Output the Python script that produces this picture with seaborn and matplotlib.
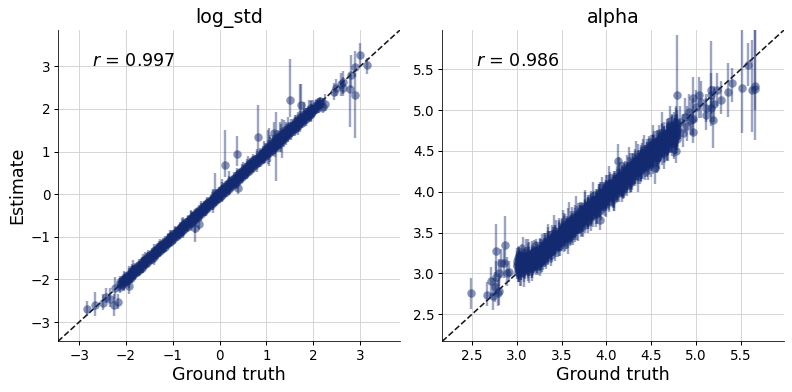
import numpy as np
import pandas as pd
import matplotlib
matplotlib.use("Agg")
import matplotlib.pyplot as plt
import seaborn as sns

NAVY = "#132a70"

# log_std: main band, three estimate layers read at the same truth positions
log_std_truth = [
    -2.12, -2.08, -2.05, -2.01, -1.97, -1.94, -1.90, -1.87, -1.84, -1.80,
    -1.77, -1.73, -1.70, -1.66, -1.63, -1.59, -1.55, -1.52, -1.48, -1.45,
    -1.41, -1.38, -1.34, -1.31, -1.27, -1.24, -1.20, -1.17, -1.13, -1.10,
    -1.06, -1.03, -0.99, -0.96, -0.92, -0.89, -0.85, -0.82, -0.78, -0.75,
    -0.71, -0.68, -0.64, -0.61, -0.57, -0.54, -0.50, -0.47, -0.43, -0.40,
    -0.36, -0.33, -0.29, -0.26, -0.22, -0.19, -0.15, -0.12, -0.08, -0.05,
    -0.01, 0.02, 0.06, 0.09, 0.13, 0.16, 0.20, 0.23, 0.27, 0.30,
    0.34, 0.37, 0.41, 0.44, 0.48, 0.51, 0.55, 0.58, 0.62, 0.65,
    0.69, 0.72, 0.76, 0.79, 0.83, 0.86, 0.90, 0.93, 0.97, 1.00,
    1.04, 1.07, 1.11, 1.14, 1.18, 1.21, 1.25, 1.28, 1.32, 1.35,
    1.39, 1.42, 1.46, 1.49, 1.53, 1.56, 1.60, 1.64, 1.68, 1.72,
    1.76, 1.80, 1.84, 1.88, 1.92, 1.96, 2.00, 2.05, 2.10, 2.15,
]
log_std_est = [
    -2.06, -2.12, -1.98, -2.03, -1.92, -1.99, -1.84, -1.93, -1.76, -1.86,
    -1.70, -1.78, -1.65, -1.72, -1.56, -1.64, -1.50, -1.57, -1.42, -1.52,
    -1.36, -1.43, -1.29, -1.36, -1.21, -1.29, -1.14, -1.23, -1.09, -1.15,
    -1.00, -1.09, -0.93, -1.01, -0.87, -0.94, -0.79, -0.88, -0.72, -0.81,
    -0.65, -0.74, -0.59, -0.67, -0.52, -0.60, -0.45, -0.54, -0.38, -0.46,
    -0.30, -0.39, -0.24, -0.32, -0.17, -0.25, -0.10, -0.18, -0.03, -0.11,
    0.05, -0.04, 0.12, 0.03, 0.19, 0.10, 0.27, 0.17, 0.33, 0.25,
    0.41, 0.30, 0.47, 0.38, 0.55, 0.45, 0.61, 0.53, 0.68, 0.60,
    0.75, 0.67, 0.82, 0.73, 0.88, 0.80, 0.96, 0.87, 1.03, 0.94,
    1.12, 1.00, 1.19, 1.07, 1.26, 1.14, 1.33, 1.20, 1.40, 1.29,
    1.46, 1.36, 1.52, 1.43, 1.59, 1.50, 1.64, 1.58, 1.71, 1.66,
    1.78, 1.74, 1.85, 1.83, 1.90, 1.91, 1.97, 2.00, 2.08, 2.12,
]
log_std_est2 = [
    -2.17, -2.02, -2.09, -1.94, -2.03, -1.88, -1.96, -1.80, -1.89, -1.74,
    -1.82, -1.67, -1.75, -1.60, -1.68, -1.53, -1.61, -1.46, -1.53, -1.39,
    -1.47, -1.32, -1.39, -1.25, -1.33, -1.18, -1.26, -1.11, -1.18, -1.04,
    -1.12, -0.97, -1.05, -0.90, -0.98, -0.83, -0.91, -0.76, -0.84, -0.69,
    -0.77, -0.62, -0.70, -0.55, -0.63, -0.48, -0.56, -0.41, -0.49, -0.34,
    -0.42, -0.27, -0.35, -0.20, -0.28, -0.13, -0.21, -0.06, -0.14, 0.01,
    -0.08, 0.09, -0.01, 0.16, 0.06, 0.23, 0.13, 0.30, 0.20, 0.37,
    0.27, 0.44, 0.34, 0.51, 0.41, 0.58, 0.48, 0.65, 0.55, 0.72,
    0.62, 0.79, 0.69, 0.86, 0.76, 0.93, 0.83, 1.00, 0.90, 1.07,
    0.96, 1.14, 1.03, 1.21, 1.10, 1.28, 1.17, 1.36, 1.24, 1.43,
    1.31, 1.50, 1.38, 1.57, 1.45, 1.63, 1.52, 1.71, 1.61, 1.79,
    1.68, 1.87, 1.77, 1.94, 1.86, 2.02, 1.94, 2.10, 2.03, 2.18,
]
log_std_est3 = [
    -2.10, -2.06, -2.07, -1.99, -1.98, -1.92, -1.91, -1.85, -1.85, -1.78,
    -1.79, -1.71, -1.71, -1.64, -1.64, -1.57, -1.56, -1.50, -1.49, -1.43,
    -1.42, -1.36, -1.35, -1.29, -1.28, -1.22, -1.21, -1.15, -1.14, -1.08,
    -1.07, -1.01, -1.00, -0.94, -0.93, -0.87, -0.86, -0.80, -0.79, -0.73,
    -0.72, -0.66, -0.65, -0.59, -0.58, -0.52, -0.51, -0.45, -0.44, -0.38,
    -0.37, -0.31, -0.30, -0.24, -0.23, -0.17, -0.16, -0.10, -0.09, -0.03,
    -0.02, 0.04, 0.05, 0.11, 0.12, 0.18, 0.19, 0.25, 0.26, 0.32,
    0.33, 0.39, 0.40, 0.46, 0.47, 0.53, 0.54, 0.60, 0.61, 0.67,
    0.68, 0.74, 0.75, 0.81, 0.82, 0.88, 0.89, 0.95, 0.96, 1.02,
    1.03, 1.09, 1.10, 1.16, 1.17, 1.23, 1.24, 1.30, 1.31, 1.37,
    1.38, 1.44, 1.45, 1.51, 1.52, 1.58, 1.59, 1.66, 1.67, 1.74,
    1.75, 1.82, 1.83, 1.90, 1.91, 1.98, 1.99, 2.07, 2.09, 2.16,
]
log_std_half = [
    0.14, 0.10, 0.17, 0.12, 0.10, 0.20, 0.12, 0.16, 0.11, 0.13,
    0.10, 0.15, 0.09, 0.12, 0.16, 0.09, 0.11, 0.14, 0.09, 0.12,
    0.18, 0.09, 0.12, 0.10, 0.15, 0.09, 0.11, 0.13, 0.08, 0.14,
    0.09, 0.12, 0.08, 0.16, 0.10, 0.09, 0.13, 0.08, 0.18, 0.10,
    0.09, 0.14, 0.08, 0.19, 0.10, 0.09, 0.13, 0.08, 0.12, 0.17,
    0.09, 0.11, 0.08, 0.13, 0.09, 0.10, 0.22, 0.09, 0.12, 0.10,
    0.13, 0.09, 0.17, 0.10, 0.12, 0.09, 0.16, 0.11, 0.09, 0.14,
    0.10, 0.18, 0.11, 0.09, 0.15, 0.10, 0.12, 0.17, 0.11, 0.13,
    0.10, 0.15, 0.11, 0.20, 0.12, 0.16, 0.10, 0.14, 0.18, 0.11,
    0.15, 0.24, 0.12, 0.17, 0.22, 0.14, 0.18, 0.12, 0.25, 0.15,
    0.13, 0.20, 0.15, 0.12, 0.18, 0.13, 0.16, 0.14, 0.22, 0.16,
    0.12, 0.15, 0.18, 0.12, 0.14, 0.20, 0.11, 0.13, 0.12, 0.10,
]

# log_std: isolated points and long bars with their own interval ends
log_std_out_truth = [
    3.00, 3.15, 2.89, 2.80, 2.78, 2.89, 2.64, 2.60, 2.64, 2.44, 2.48,
    1.51, 1.73, 0.82, 0.37, 0.12, 0.40, 1.16, 1.20, 1.33, 1.71, 1.80, -0.10,
    -1.93, -2.17, -2.25, -2.35, -2.83, -2.65, -2.49, -2.42, -2.24, -0.53, -0.44,
    2.25, 2.20, 2.10, 1.95,
    -1.85, -1.60, -1.30, -1.05, -0.80, -0.60, -0.30, 0.05, 0.20, 0.50, 0.60,
    0.95, 1.05, 1.28, 1.38, 1.47, 1.60, 1.90, 2.00, -0.52, 1.03,
]
log_std_out_est = [
    3.26, 3.02, 2.98, 2.80, 2.47, 2.33, 2.62, 2.58, 2.50, 2.39, 2.50,
    2.20, 2.08, 1.33, 0.95, 0.69, 0.15, 1.44, 1.15, 1.30, 1.70, 1.85, 0.02,
    -2.15, -2.54, -2.60, -2.45, -2.70, -2.60, -2.55, -2.40, -2.20, -0.80, -0.69,
    2.12, 2.05, 2.08, 1.88,
    -1.80, -1.55, -1.28, -1.02, -0.75, -0.60, -0.30, 0.07, 0.22, 0.52, 0.62,
    0.98, 1.10, 1.28, 1.35, 1.50, 1.62, 1.92, 2.00, -0.55, 1.05,
]
log_std_out_low = [
    3.00, 2.82, 2.75, 2.50, 1.58, 1.32, 2.35, 2.30, 2.30, 2.20, 2.30,
    1.80, 1.75, 1.00, 0.65, 0.40, 0.00, 1.20, 0.31, 0.85, 1.45, 1.70, -0.25,
    -2.35, -2.70, -2.85, -2.65, -2.85, -2.85, -2.72, -2.55, -2.45, -1.12, -0.85,
    1.95, 1.90, 1.95, 1.70,
    -2.00, -1.75, -1.45, -1.20, -0.95, -0.78, -0.50, -0.15, 0.00, 0.30, 0.40,
    0.70, 0.65, 1.00, 1.10, 1.30, 1.45, 1.70, 1.85, -0.90, 0.70,
]
log_std_out_high = [
    3.55, 3.20, 3.35, 3.27, 2.85, 2.85, 2.90, 2.85, 2.75, 2.60, 2.70,
    3.16, 2.58, 2.09, 1.37, 1.50, 0.35, 1.70, 1.92, 1.76, 2.58, 2.15, 0.50,
    -1.95, -2.35, -2.35, -2.20, -2.50, -2.30, -2.35, -2.20, -1.95, -0.55, -0.50,
    2.35, 2.25, 2.25, 2.10,
    -1.55, -1.35, -1.10, -0.85, -0.55, -0.42, -0.15, 0.35, 0.55, 0.75, 0.90,
    1.25, 1.55, 1.70, 1.75, 1.80, 1.85, 2.20, 2.20, -0.35, 1.50,
]

# alpha: main band
alpha_truth = [
    3.00, 3.01, 3.03, 3.03, 3.05, 3.05, 3.06, 3.08, 3.08, 3.09,
    3.10, 3.12, 3.12, 3.14, 3.14, 3.15, 3.17, 3.17, 3.18, 3.19,
    3.20, 3.21, 3.23, 3.23, 3.24, 3.26, 3.26, 3.27, 3.28, 3.29,
    3.30, 3.32, 3.32, 3.33, 3.35, 3.35, 3.36, 3.38, 3.38, 3.39,
    3.40, 3.41, 3.43, 3.43, 3.44, 3.45, 3.47, 3.47, 3.48, 3.49,
    3.50, 3.51, 3.53, 3.53, 3.54, 3.56, 3.56, 3.57, 3.59, 3.59,
    3.60, 3.62, 3.62, 3.63, 3.65, 3.65, 3.67, 3.67, 3.68, 3.70,
    3.70, 3.71, 3.73, 3.73, 3.74, 3.76, 3.76, 3.77, 3.79, 3.79,
    3.80, 3.81, 3.83, 3.83, 3.85, 3.85, 3.86, 3.88, 3.88, 3.89,
    3.90, 3.92, 3.92, 3.93, 3.94, 3.96, 3.96, 3.97, 3.99, 3.99,
    4.00, 4.01, 4.03, 4.03, 4.04, 4.06, 4.06, 4.08, 4.08, 4.09,
    4.10, 4.12, 4.12, 4.14, 4.14, 4.15, 4.17, 4.17, 4.18, 4.20,
    4.20, 4.21, 4.23, 4.23, 4.24, 4.26, 4.26, 4.27, 4.29, 4.29,
    4.30, 4.32, 4.32, 4.33, 4.35, 4.35, 4.36, 4.38, 4.38, 4.39,
    4.40, 4.41, 4.43, 4.43, 4.45, 4.45, 4.47, 4.47, 4.48, 4.50,
    4.50, 4.52, 4.52, 4.53, 4.55, 4.55, 4.56, 4.58, 4.58, 4.59,
    4.60, 4.62, 4.62, 4.64, 4.64, 4.65, 4.67, 4.67, 4.69, 4.69,
    4.70, 4.72, 4.73, 4.73, 4.75, 4.76, 4.76, 4.78, 4.79, 4.79,
]
alpha_est = [
    3.15, 3.02, 3.22, 3.08, 3.16, 3.00, 3.24, 3.10, 3.05, 3.18,
    3.12, 3.20, 3.06, 3.16, 3.24, 3.10, 3.19, 3.07, 3.26, 3.14,
    3.21, 3.13, 3.28, 3.17, 3.09, 3.26, 3.20, 3.31, 3.16, 3.24,
    3.37, 3.24, 3.31, 3.19, 3.40, 3.29, 3.36, 3.23, 3.33, 3.43,
    3.35, 3.46, 3.30, 3.41, 3.51, 3.37, 3.45, 3.33, 3.49, 3.42,
    3.53, 3.44, 3.58, 3.47, 3.40, 3.55, 3.50, 3.61, 3.46, 3.57,
    3.64, 3.52, 3.59, 3.49, 3.68, 3.56, 3.63, 3.54, 3.71, 3.60,
    3.67, 3.76, 3.62, 3.71, 3.58, 3.79, 3.68, 3.74, 3.63, 3.81,
    3.72, 3.85, 3.76, 3.69, 3.88, 3.79, 3.84, 3.73, 3.91, 3.81,
    3.92, 3.84, 3.98, 3.87, 3.79, 3.95, 3.90, 4.01, 3.85, 3.97,
    4.06, 3.93, 3.99, 3.89, 4.09, 3.96, 4.03, 3.94, 4.12, 4.00,
    4.07, 4.17, 4.02, 4.11, 3.99, 4.20, 4.08, 4.14, 4.03, 4.22,
    4.12, 4.26, 4.16, 4.08, 4.29, 4.19, 4.24, 4.13, 4.32, 4.21,
    4.32, 4.23, 4.38, 4.27, 4.19, 4.36, 4.30, 4.41, 4.25, 4.37,
    4.46, 4.33, 4.39, 4.29, 4.49, 4.36, 4.43, 4.34, 4.52, 4.40,
    4.47, 4.58, 4.42, 4.51, 4.39, 4.61, 4.48, 4.54, 4.43, 4.63,
    4.52, 4.67, 4.56, 4.48, 4.70, 4.59, 4.64, 4.53, 4.73, 4.61,
    4.72, 4.63, 4.78, 4.67, 4.59, 4.76, 4.70, 4.81, 4.65, 4.77,
]
alpha_est2 = [
    3.09, 3.19, 3.04, 3.13, 3.21, 3.07, 3.14, 3.03, 3.20, 3.11,
    3.17, 3.08, 3.23, 3.11, 3.03, 3.18, 3.22, 3.13, 3.09, 3.27,
    3.16, 3.25, 3.10, 3.22, 3.28, 3.14, 3.30, 3.19, 3.25, 3.14,
    3.28, 3.34, 3.21, 3.37, 3.26, 3.33, 3.42, 3.27, 3.40, 3.30,
    3.44, 3.32, 3.38, 3.47, 3.34, 3.42, 3.50, 3.39, 3.35, 3.47,
    3.47, 3.56, 3.42, 3.52, 3.60, 3.45, 3.57, 3.43, 3.54, 3.49,
    3.57, 3.66, 3.50, 3.62, 3.53, 3.67, 3.59, 3.70, 3.55, 3.65,
    3.72, 3.60, 3.68, 3.77, 3.64, 3.73, 3.82, 3.70, 3.78, 3.66,
    3.79, 3.70, 3.88, 3.77, 3.83, 3.71, 3.90, 3.76, 3.86, 3.74,
    3.86, 3.95, 3.81, 3.92, 3.99, 3.84, 3.96, 3.87, 3.93, 4.03,
    3.97, 4.08, 3.92, 4.02, 4.11, 3.98, 4.06, 3.91, 4.09, 3.95,
    4.13, 4.02, 4.08, 4.19, 4.05, 4.12, 4.00, 4.18, 4.10, 4.06,
    4.20, 4.10, 4.28, 4.15, 4.23, 4.11, 4.30, 4.17, 4.26, 4.14,
    4.27, 4.37, 4.21, 4.33, 4.40, 4.24, 4.35, 4.28, 4.43, 4.31,
    4.38, 4.48, 4.31, 4.42, 4.52, 4.37, 4.47, 4.35, 4.50, 4.33,
    4.54, 4.44, 4.50, 4.60, 4.46, 4.53, 4.41, 4.59, 4.50, 4.47,
    4.60, 4.50, 4.69, 4.55, 4.63, 4.51, 4.71, 4.58, 4.66, 4.54,
    4.66, 4.76, 4.61, 4.73, 4.82, 4.64, 4.75, 4.68, 4.83, 4.70,
]
alpha_est3 = [
    3.12, 3.06, 3.17, 3.11, 3.02, 3.20, 3.08, 3.15, 3.13, 3.07,
    3.19, 3.14, 3.10, 3.21, 3.12, 3.17, 3.08, 3.24, 3.16, 3.20,
    3.26, 3.18, 3.22, 3.13, 3.25, 3.21, 3.15, 3.27, 3.23, 3.19,
    3.32, 3.28, 3.36, 3.30, 3.24, 3.38, 3.31, 3.34, 3.28, 3.37,
    3.40, 3.37, 3.44, 3.36, 3.43, 3.40, 3.47, 3.41, 3.45, 3.38,
    3.50, 3.48, 3.54, 3.50, 3.46, 3.52, 3.55, 3.50, 3.57, 3.53,
    3.60, 3.58, 3.63, 3.55, 3.62, 3.60, 3.67, 3.61, 3.64, 3.66,
    3.70, 3.72, 3.67, 3.75, 3.69, 3.74, 3.72, 3.78, 3.71, 3.76,
    3.81, 3.78, 3.82, 3.80, 3.79, 3.86, 3.81, 3.84, 3.82, 3.88,
    3.89, 3.91, 3.87, 3.94, 3.90, 3.92, 3.98, 3.93, 3.96, 3.90,
    4.01, 3.99, 4.04, 4.00, 4.03, 4.07, 4.00, 4.05, 4.02, 4.08,
    4.10, 4.13, 4.09, 4.15, 4.12, 4.11, 4.17, 4.13, 4.16, 4.14,
    4.18, 4.22, 4.19, 4.24, 4.21, 4.25, 4.20, 4.27, 4.23, 4.26,
    4.30, 4.33, 4.28, 4.35, 4.32, 4.34, 4.38, 4.32, 4.39, 4.35,
    4.41, 4.39, 4.44, 4.41, 4.46, 4.43, 4.47, 4.42, 4.48, 4.45,
    4.50, 4.52, 4.49, 4.56, 4.51, 4.54, 4.57, 4.52, 4.59, 4.55,
    4.62, 4.58, 4.63, 4.60, 4.65, 4.62, 4.68, 4.61, 4.67, 4.64,
    4.69, 4.71, 4.66, 4.74, 4.70, 4.72, 4.75, 4.73, 4.78, 4.74,
]
alpha_half = [
    0.16, 0.13, 0.12, 0.18, 0.10, 0.15, 0.12, 0.20, 0.11, 0.14,
    0.13, 0.17, 0.11, 0.12, 0.15, 0.10, 0.13, 0.16, 0.11, 0.14,
    0.12, 0.15, 0.10, 0.13, 0.11, 0.17, 0.12, 0.11, 0.14, 0.10,
    0.12, 0.16, 0.11, 0.13, 0.12, 0.19, 0.10, 0.14, 0.12, 0.16,
    0.13, 0.11, 0.15, 0.12, 0.14, 0.10, 0.18, 0.12, 0.13, 0.11,
    0.14, 0.12, 0.16, 0.11, 0.13, 0.15, 0.11, 0.19, 0.12, 0.13,
    0.12, 0.15, 0.11, 0.14, 0.12, 0.17, 0.10, 0.13, 0.15, 0.11,
    0.14, 0.12, 0.16, 0.11, 0.13, 0.12, 0.18, 0.11, 0.14, 0.12,
    0.15, 0.11, 0.13, 0.17, 0.12, 0.14, 0.11, 0.16, 0.12, 0.13,
    0.12, 0.15, 0.11, 0.18, 0.13, 0.12, 0.14, 0.11, 0.16, 0.12,
    0.14, 0.12, 0.17, 0.11, 0.13, 0.15, 0.12, 0.14, 0.11, 0.18,
    0.13, 0.15, 0.12, 0.14, 0.11, 0.16, 0.13, 0.19, 0.12, 0.14,
    0.15, 0.12, 0.17, 0.13, 0.14, 0.12, 0.18, 0.13, 0.15, 0.12,
    0.16, 0.13, 0.14, 0.12, 0.19, 0.14, 0.13, 0.16, 0.12, 0.15,
    0.14, 0.17, 0.13, 0.15, 0.12, 0.18, 0.14, 0.13, 0.16, 0.15,
    0.16, 0.13, 0.20, 0.14, 0.15, 0.13, 0.18, 0.16, 0.14, 0.19,
    0.15, 0.17, 0.14, 0.20, 0.16, 0.15, 0.18, 0.14, 0.17, 0.16,
    0.18, 0.15, 0.17, 0.20, 0.16, 0.18, 0.15, 0.22, 0.17, 0.19,
]

# alpha: isolated points and long bars with their own interval ends
alpha_out_truth = [
    4.79, 4.97, 5.03, 5.17, 5.17, 5.19, 5.20, 5.23, 5.28, 5.36, 5.40,
    5.51, 5.58, 5.62, 5.66, 5.66, 5.11, 5.11, 5.17, 5.06, 5.00, 4.96, 4.96,
    4.78, 4.54, 4.13, 4.82, 4.85, 4.88, 4.92, 4.90, 4.94,
    2.49, 2.67, 2.71, 2.77, 2.87, 2.83, 2.86, 2.77, 2.80, 2.89, 2.91,
    2.76, 2.80, 2.74, 2.79, 3.93,
    3.02, 3.07, 3.04, 3.10, 3.17, 3.13, 3.22, 3.28, 3.27, 3.35, 3.37, 3.42,
    3.46, 3.52, 3.55, 3.58, 3.61, 3.66, 3.72, 3.76, 3.80, 3.85, 3.83, 3.95,
    3.98, 4.03, 4.07, 4.14, 4.19, 4.25, 4.27, 4.33, 4.37, 4.42, 4.46, 4.52,
    4.58, 4.62, 4.67, 4.71, 4.75, 4.78,
]
alpha_out_est = [
    5.19, 5.15, 5.19, 5.24, 5.19, 4.88, 5.08, 5.25, 5.12, 5.22, 5.33,
    5.27, 5.55, 5.24, 5.30, 5.26, 4.94, 5.02, 5.02, 5.10, 5.04, 4.73, 4.89,
    4.50, 4.29, 4.38, 4.85, 4.72, 4.92, 4.98, 4.80, 4.88,
    2.76, 2.74, 2.91, 3.27, 3.35, 3.13, 3.13, 2.96, 3.00, 3.01, 3.02,
    2.84, 2.78, 2.73, 2.76, 3.66,
    3.10, 3.14, 3.05, 3.18, 3.15, 3.22, 3.26, 3.30, 3.20, 3.35, 3.38, 3.46,
    3.40, 3.55, 3.50, 3.63, 3.55, 3.70, 3.66, 3.80, 3.76, 3.90, 3.80, 3.95,
    3.92, 4.08, 4.02, 4.18, 4.13, 4.30, 4.20, 4.38, 4.30, 4.47, 4.37, 4.58,
    4.45, 4.68, 4.58, 4.80, 4.62, 4.85,
]
alpha_out_low = [
    4.96, 4.90, 4.90, 4.85, 4.95, 4.53, 4.85, 5.05, 4.95, 4.91, 5.10,
    4.72, 5.30, 4.73, 4.63, 5.00, 4.75, 4.85, 4.80, 4.90, 4.85, 4.60, 4.70,
    4.35, 4.10, 4.20, 4.65, 4.55, 4.72, 4.80, 4.62, 4.70,
    2.57, 2.60, 2.70, 3.00, 3.10, 2.95, 2.95, 2.75, 2.85, 2.85, 2.90,
    2.65, 2.62, 2.55, 2.60, 3.53,
    2.90, 3.00, 2.85, 3.00, 2.95, 3.05, 3.10, 3.15, 3.00, 3.20, 3.20, 3.30,
    3.20, 3.35, 3.30, 3.45, 3.35, 3.55, 3.45, 3.65, 3.55, 3.75, 3.58, 3.80,
    3.70, 3.90, 3.80, 4.02, 3.92, 4.15, 4.00, 4.20, 4.10, 4.30, 4.15, 4.40,
    4.25, 4.50, 4.38, 4.60, 4.40, 4.65,
]
alpha_out_high = [
    5.92, 5.40, 5.41, 5.85, 5.45, 5.15, 5.30, 5.45, 5.35, 5.57, 5.51,
    5.98, 5.82, 5.86, 5.98, 5.98, 5.15, 5.20, 5.30, 5.35, 5.25, 4.95, 5.15,
    4.65, 4.55, 4.59, 5.05, 4.95, 5.15, 5.20, 5.05, 5.10,
    2.95, 2.90, 3.08, 3.61, 3.70, 3.30, 3.30, 3.15, 3.18, 3.20, 3.15,
    3.02, 2.95, 2.95, 2.92, 3.80,
    3.32, 3.45, 3.22, 3.42, 3.30, 3.42, 3.42, 3.48, 3.35, 3.60, 3.52, 3.72,
    3.56, 3.78, 3.68, 3.88, 3.72, 3.95, 3.82, 4.02, 3.92, 4.12, 3.98, 4.18,
    4.08, 4.32, 4.20, 4.42, 4.30, 4.55, 4.38, 4.62, 4.48, 4.70, 4.55, 4.82,
    4.65, 4.98, 4.75, 5.05, 4.80, 5.05,
]


def recovery_panel(ax, truth, est_layers, half, out_truth, out_est, out_low, out_high,
                   lims, ticks, title, r_text):
    frames = []
    for est in est_layers:
        frames.append(pd.DataFrame({
            "truth": truth,
            "est": est,
            "low": np.array(est) - np.array(half),
            "high": np.array(est) + np.array(half),
        }))
    frames.append(pd.DataFrame({"truth": out_truth, "est": out_est,
                                "low": out_low, "high": out_high}))
    df = pd.concat(frames, ignore_index=True)

    ax.plot(lims, lims, color="black", linestyle="--", linewidth=1.6, alpha=0.9, zorder=1)
    ax.vlines(df["truth"], df["low"], df["high"], color=NAVY, alpha=0.42, linewidth=2.4, zorder=2)
    sns.scatterplot(data=df, x="truth", y="est", color=NAVY, alpha=0.5, s=72,
                    linewidth=0, ax=ax, zorder=3)
    ax.set_xlim(lims)
    ax.set_ylim(lims)
    ax.set_xticks(ticks)
    ax.set_yticks(ticks)
    ax.grid(True, color="#cccccc", alpha=0.8, linewidth=1)
    ax.set_axisbelow(True)
    ax.tick_params(labelsize=13.5, length=4, width=1, color="black", labelcolor="black")
    ax.set_xlabel("Ground truth", fontsize=17.5, labelpad=3, color="black")
    ax.set_ylabel("")
    ax.set_title(title, fontsize=19, pad=7, color="black")
    ax.text(0.1, 0.9, r_text, transform=ax.transAxes, fontsize=17.5, va="center", color="black")
    for side in ["left", "bottom"]:
        ax.spines[side].set_color("black")
    sns.despine(ax=ax)


sns.set_style("ticks")
plt.rcParams["font.family"] = ["DejaVu Sans"]
plt.rcParams["mathtext.fontset"] = "dejavusans"

fig = plt.figure(figsize=(11, 392 / 72), dpi=72)
ax1 = fig.add_axes([58 / 792, 1 - 341.3 / 392, 342 / 792, 311.3 / 392])
ax2 = fig.add_axes([442.3 / 792, 1 - 341.3 / 392, 341.7 / 792, 311.3 / 392])

recovery_panel(ax1, log_std_truth, [log_std_est, log_std_est2, log_std_est3], log_std_half,
               log_std_out_truth, log_std_out_est, log_std_out_low, log_std_out_high,
               (-3.45, 3.85), [-3, -2, -1, 0, 1, 2, 3], "log_std", "$r$ = 0.997")
recovery_panel(ax2, alpha_truth, [alpha_est, alpha_est2, alpha_est3], alpha_half,
               alpha_out_truth, alpha_out_est, alpha_out_low, alpha_out_high,
               (2.17, 5.98), [2.5, 3.0, 3.5, 4.0, 4.5, 5.0, 5.5], "alpha", "$r$ = 0.986")
ax1.set_ylabel("Estimate", fontsize=17.5, labelpad=4, color="black")

fig.savefig("out.png", dpi=72)
